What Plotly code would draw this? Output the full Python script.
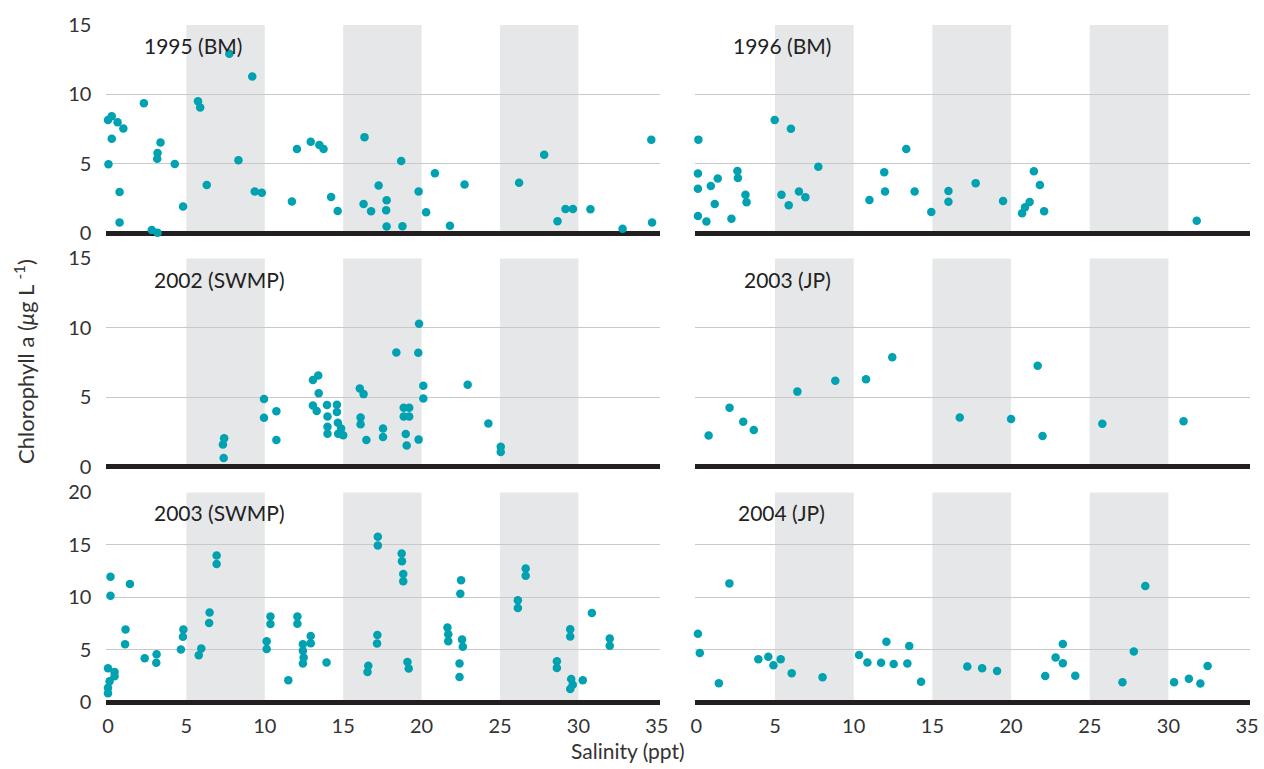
import plotly.graph_objects as go

# ---------------- data ----------------
panel_labels = ["1995 (BM)", "1996 (BM)", "2002 (SWMP)", "2003 (JP)", "2003 (SWMP)", "2004 (JP)"]

sal_1995 = [0.0, 0.03, 0.24, 0.24, 0.61, 0.74, 0.74, 0.98, 2.29, 2.79, 3.16, 3.14, 3.16, 3.35, 4.26, 4.79,
            5.74, 5.88, 6.3, 7.74, 8.32, 9.2, 9.36, 9.81, 11.73, 12.05, 12.93, 13.48, 13.75, 14.23, 14.65,
            16.36, 16.3, 16.78, 17.26, 17.77, 17.74, 17.77, 18.7, 18.78, 19.81, 20.29, 20.85, 21.81, 22.74,
            26.22, 27.82, 28.67, 29.18, 29.65, 30.77, 32.82, 34.65, 34.7]
chl_1995 = [8.17, 4.98, 8.43, 6.81, 8.0, 2.98, 0.79, 7.55, 9.36, 0.24, 0.05, 5.38, 5.79, 6.55, 5.0, 1.93,
            9.52, 9.07, 3.48, 12.93, 5.26, 11.29, 3.02, 2.93, 2.29, 6.07, 6.6, 6.36, 6.07, 2.62, 1.62,
            6.93, 2.12, 1.6, 3.45, 2.38, 1.67, 0.5, 5.21, 0.52, 3.02, 1.52, 4.33, 0.55, 3.52,
            3.64, 5.67, 0.88, 1.76, 1.76, 1.74, 0.33, 6.74, 0.79]

sal_1996 = [0.13, 0.1, 0.1, 0.1, 0.64, 0.92, 1.17, 1.36, 2.23, 2.61, 2.64, 3.12, 3.19, 4.98, 5.41, 5.87,
            6.01, 6.52, 6.93, 7.75, 11.0, 11.94, 11.99, 13.34, 13.87, 14.93, 16.02, 16.02, 17.75, 19.49,
            20.7, 20.89, 21.18, 21.45, 21.83, 22.1, 31.8]
chl_1996 = [6.75, 4.31, 3.22, 1.25, 0.85, 3.41, 2.12, 3.95, 1.06, 4.49, 3.98, 2.78, 2.24, 8.16, 2.78, 2.02,
            7.53, 3.01, 2.61, 4.8, 2.4, 4.4, 3.01, 6.07, 3.01, 1.55, 3.06, 2.28, 3.62, 2.33,
            1.46, 1.88, 2.26, 4.47, 3.48, 1.6, 0.92]

sal_2002 = [7.41, 7.33, 7.38, 9.95, 9.95, 10.74, 10.74, 13.07, 13.41, 13.44, 13.07, 13.31, 13.97, 14.0, 14.0,
            14.0, 14.6, 14.6, 14.66, 14.87, 14.68, 15.0, 16.06, 16.3, 16.11, 16.11, 16.48, 17.54, 17.54,
            18.39, 18.86, 18.86, 19.21, 19.21, 18.99, 19.05, 19.84, 19.79, 19.81, 20.11, 20.11, 22.94,
            24.26, 25.05, 25.05]
chl_2002 = [2.04, 1.59, 0.61, 4.87, 3.51, 3.98, 1.92, 6.23, 6.56, 5.29, 4.4, 4.0, 4.43, 3.61, 2.86,
            2.37, 4.45, 3.93, 3.16, 2.74, 2.37, 2.25, 5.62, 5.22, 3.54, 3.04, 1.92, 2.74, 2.13,
            8.22, 4.24, 3.61, 4.24, 3.61, 2.34, 1.52, 10.3, 8.2, 1.94, 5.83, 4.9, 5.9,
            3.11, 1.43, 1.05]

sal_2003jp = [0.78, 2.11, 2.98, 3.65, 6.42, 8.83, 10.78, 12.45, 16.74, 20.0, 21.69, 22.0, 25.8, 30.96]
chl_2003jp = [2.24, 4.23, 3.22, 2.64, 5.4, 6.19, 6.29, 7.87, 3.53, 3.43, 7.27, 2.2, 3.08, 3.27]

sal_2003sw = [0.0, 0.0, 0.0, 0.1, 0.16, 0.16, 0.42, 0.42, 1.12, 1.09, 1.4, 2.34, 3.1, 3.08, 4.65, 4.78,
              4.81, 5.79, 5.95, 6.45, 6.48, 6.93, 6.93, 10.12, 10.12, 10.36, 10.36, 11.5, 12.08, 12.08,
              12.43, 12.43, 12.48, 12.43, 12.93, 12.93, 13.94, 16.6, 16.55, 17.21, 17.21, 17.18, 17.16,
              18.73, 18.75, 18.83, 18.83, 19.1, 19.18, 21.65, 21.7, 21.7, 22.52, 22.47, 22.58, 22.63,
              22.42, 22.42, 26.14, 26.14, 26.64, 26.64, 28.63, 28.63, 29.48, 29.48, 29.54, 29.64, 29.48,
              30.28, 30.86, 32.0, 32.0]
chl_2003sw = [3.24, 0.85, 1.38, 2.0, 11.96, 10.16, 2.88, 2.47, 6.93, 5.53, 11.27, 4.18, 4.56, 3.76, 5.03, 6.24,
              6.93, 4.47, 5.13, 7.55, 8.56, 13.17, 13.99, 5.07, 5.82, 7.45, 8.17, 2.09, 7.48, 8.17,
              5.52, 4.91, 4.26, 3.68, 6.31, 5.62, 3.79, 3.47, 2.88, 15.77, 14.94, 6.41, 5.59,
              14.18, 13.43, 12.22, 11.54, 3.82, 3.21, 7.12, 6.47, 5.82, 11.63, 10.33, 5.98, 5.29,
              3.68, 2.41, 9.71, 8.99, 12.75, 12.06, 3.91, 3.26, 6.96, 6.27, 2.2, 1.65, 1.26,
              2.09, 8.5, 6.08, 5.39]

sal_2004 = [0.1, 0.22, 1.43, 2.1, 3.94, 4.57, 4.9, 5.36, 6.06, 8.02, 10.34, 10.87, 11.74, 12.08, 12.54,
            13.41, 13.53, 14.28, 17.22, 18.16, 19.11, 22.17, 22.83, 23.29, 23.29, 24.08, 27.08, 27.8,
            28.53, 30.36, 31.3, 32.03, 32.49]
chl_2004 = [6.52, 4.68, 1.8, 11.33, 4.1, 4.33, 3.52, 4.1, 2.76, 2.38, 4.51, 3.78, 3.75, 5.77, 3.63,
            3.69, 5.35, 1.95, 3.4, 3.23, 2.97, 2.5, 4.27, 5.55, 3.72, 2.53, 1.89, 4.83,
            11.07, 1.89, 2.24, 1.77, 3.46]

xticks = [0, 5, 10, 15, 20, 25, 30, 35]
yticks_15 = [0, 5, 10, 15]
yticks_20 = [0, 5, 10, 15, 20]
bands = [(5, 10), (15, 20), (25, 30)]
label_pos = [(2.2, 13.5), (2.2, 13.5), (2.8, 13.5), (2.9, 13.5), (2.8, 18.1), (2.5, 18.1)]

series = [(sal_1995, chl_1995), (sal_1996, chl_1996), (sal_2002, chl_2002),
          (sal_2003jp, chl_2003jp), (sal_2003sw, chl_2003sw), (sal_2004, chl_2004)]

# ---------------- layout geometry ----------------
W, H = 1264, 769
FONT = "Lato"
TEAL = "#00a1b0"
BAND = "#e6e7e8"
GRID = "#c9c9c9"
TXT = "#333333"

col_px = [(103.4, 662.2), (697.4, 1258.2)]
row_px = [(12.6, 230.6), (252.0, 469.6), (491.9, 711.2)]
yranges = [[-0.25, 15.05], [-0.25, 15.05], [-0.33, 20.07]]

fig = go.Figure()
layout = dict(width=W, height=H, margin=dict(l=0, r=0, t=0, b=0),
              paper_bgcolor="white", plot_bgcolor="white", showlegend=False,
              font=dict(family=FONT, color=TXT))
shapes = []
annotations = []

for i, (sx, cy) in enumerate(series):
    r, c = divmod(i, 2)
    k = i + 1
    xa = "x" if k == 1 else f"x{k}"
    ya = "y" if k == 1 else f"y{k}"
    fig.add_trace(go.Scatter(x=sx, y=cy, mode="markers", xaxis=xa, yaxis=ya,
                             marker=dict(color=TEAL, size=8.5, line=dict(width=0)),
                             cliponaxis=False, hoverinfo="x+y"))
    ymax = 20 if r == 2 else 15
    layout["xaxis" if k == 1 else f"xaxis{k}"] = dict(
        domain=[col_px[c][0] / W, col_px[c][1] / W], range=[-0.1, 35.2],
        anchor=ya, showgrid=False, zeroline=False, showline=False,
        tickvals=xticks, showticklabels=(r == 2), ticks="",
        ticklabelstandoff=6, tickfont=dict(size=20, family=FONT, color=TXT))
    layout["yaxis" if k == 1 else f"yaxis{k}"] = dict(
        domain=[1 - row_px[r][1] / H, 1 - row_px[r][0] / H], range=yranges[r],
        anchor=xa, showgrid=True, gridcolor=GRID, gridwidth=1,
        zeroline=True, zerolinecolor="#231f20", zerolinewidth=5, showline=False,
        tickvals=yticks_20 if r == 2 else yticks_15, showticklabels=(c == 0), ticks="",
        ticklabelstandoff=14, tickfont=dict(size=20, family=FONT, color=TXT))
    for (b0, b1) in bands:
        shapes.append(dict(type="rect", xref=xa, yref=ya, x0=b0, x1=b1, y0=0, y1=ymax,
                           fillcolor=BAND, line=dict(width=0), layer="below"))
    lx, ly = label_pos[i]
    annotations.append(dict(text=panel_labels[i], xref=xa, yref=ya, x=lx, y=ly,
                            xanchor="left", yanchor="middle", showarrow=False,
                            font=dict(size=21, family=FONT, color="#222222")))

annotations.append(dict(text="Chlorophyll a (<i>μ</i>g L <sup>-1</sup>)", xref="paper", yref="paper",
                        x=20 / W, y=1 - 358 / H, textangle=-90, showarrow=False,
                        xanchor="center", yanchor="middle",
                        font=dict(size=22, family=FONT, color=TXT)))
annotations.append(dict(text="Salinity (ppt)", xref="paper", yref="paper",
                        x=630 / W, y=1 - 757 / H, showarrow=False,
                        xanchor="center", yanchor="middle",
                        font=dict(size=21, family=FONT, color=TXT)))

layout["shapes"] = shapes
layout["annotations"] = annotations
fig.update_layout(**layout)

fig.write_html("out.html", config={"displayModeBar": False},
               post_script="document.body.style.margin='0';")
